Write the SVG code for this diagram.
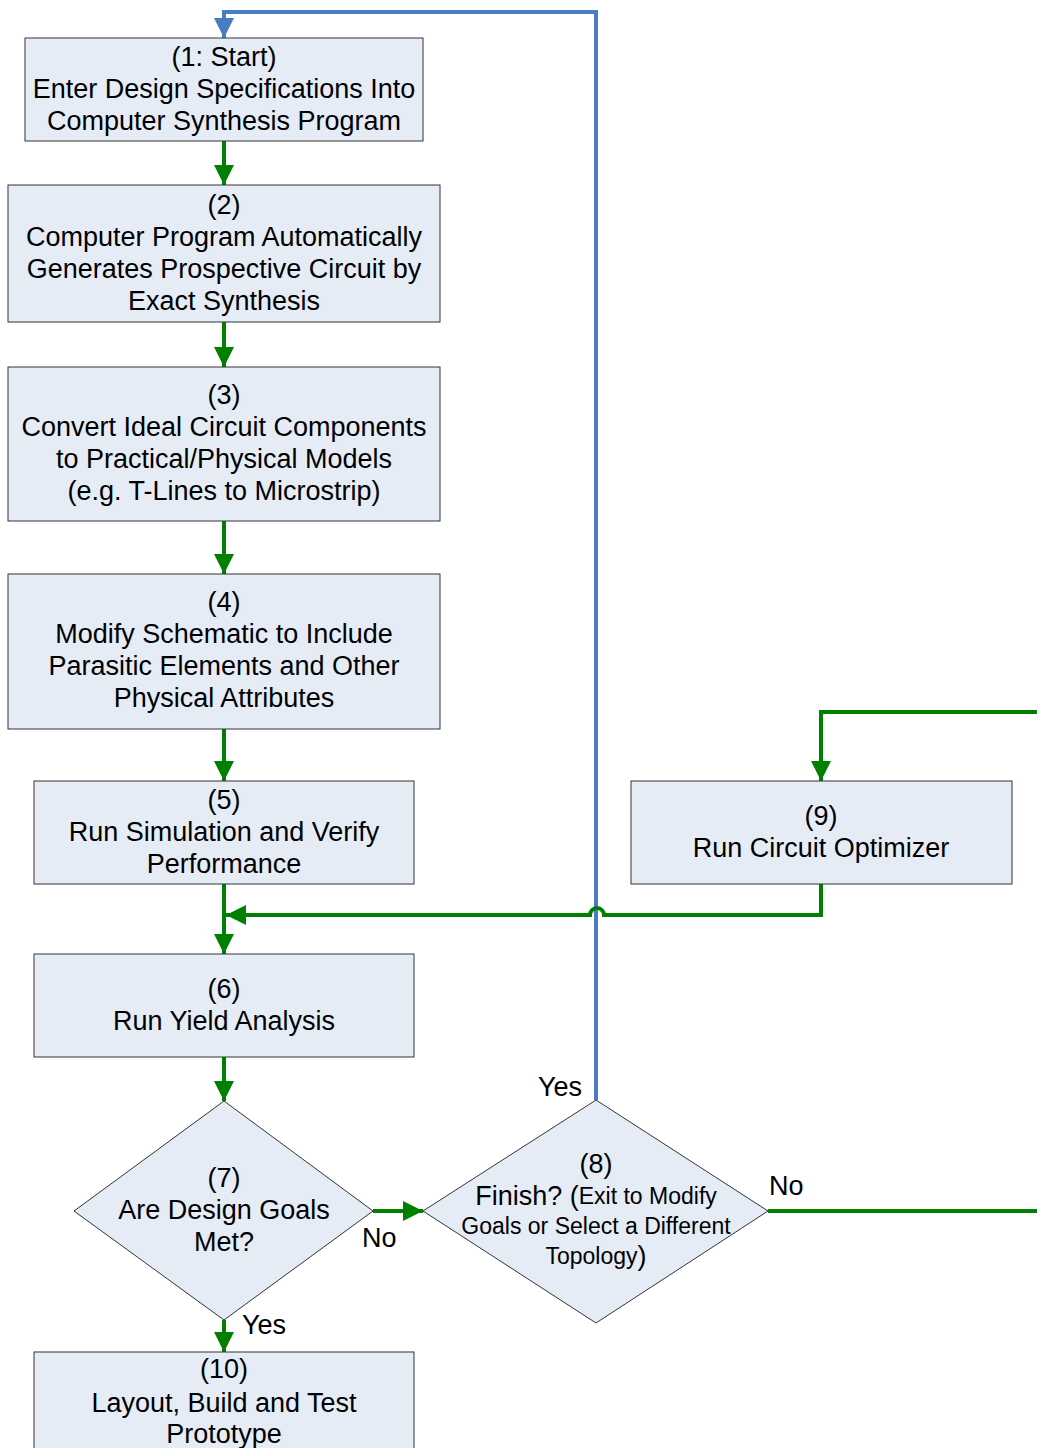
<svg xmlns="http://www.w3.org/2000/svg" width="1037" height="1448" viewBox="0 0 1037 1448">
<style>
.box{fill:#E6ECF6;stroke:#333;stroke-width:1}
.t{font-family:"Liberation Sans",Arial,sans-serif;font-size:27px;fill:#000;text-anchor:middle;dominant-baseline:central}
.s{font-size:23px}
.g{fill:none;stroke:#008000;stroke-width:4}
.b{fill:none;stroke:#4A7BC4;stroke-width:4}
.lbl{font-family:"Liberation Sans",Arial,sans-serif;font-size:27px;fill:#000;dominant-baseline:central}
</style>
<defs>
<marker id="ag" markerUnits="userSpaceOnUse" markerWidth="22" markerHeight="22" refX="20" refY="10" orient="auto"><path d="M0,0 L20,10 L0,20 Z" fill="#008000"/></marker>
<marker id="ab" markerUnits="userSpaceOnUse" markerWidth="22" markerHeight="22" refX="20" refY="10" orient="auto"><path d="M0,0 L20,10 L0,20 Z" fill="#4A7BC4"/></marker>
</defs>
<rect width="1037" height="1448" fill="#fff"/>
<g id="connectors">
<path class="g" d="M224,141 V185" marker-end="url(#ag)"/>
<path class="g" d="M224,322 V367" marker-end="url(#ag)"/>
<path class="g" d="M224,521 V574" marker-end="url(#ag)"/>
<path class="g" d="M224,729 V781" marker-end="url(#ag)"/>
<path class="g" d="M224,884 V954" marker-end="url(#ag)"/>
<path class="b" d="M596,1100 V12 H224 V38" marker-end="url(#ab)"/>
<path class="g" d="M821,884 V915 H604 A7,7 0 0 0 590,915 H226" marker-end="url(#ag)"/>
<path class="g" d="M224,1057 V1101" marker-end="url(#ag)"/>
<path class="g" d="M373,1211 H423" marker-end="url(#ag)"/>
<path class="g" d="M224,1320 V1352" marker-end="url(#ag)"/>
<path class="g" d="M768,1211 H1037"/>
<path class="g" d="M1037,712 H821 V781" marker-end="url(#ag)"/>
<text class="lbl" x="362" y="1238">No</text>
<text class="lbl" x="242" y="1325">Yes</text>
<text class="lbl" x="769" y="1186">No</text>
<text class="lbl" x="538" y="1087">Yes</text>
</g>
<g id="n1"><rect class="box" x="25" y="38" width="398" height="103"/>
<text class="t" x="224" y="57">(1: Start)</text>
<text class="t" x="224" y="89">Enter Design Specifications Into</text>
<text class="t" x="224" y="121">Computer Synthesis Program</text></g>
<g id="n2"><rect class="box" x="8" y="185" width="432" height="137"/>
<text class="t" x="224" y="205">(2)</text>
<text class="t" x="224" y="237">Computer Program Automatically</text>
<text class="t" x="224" y="269">Generates Prospective Circuit by</text>
<text class="t" x="224" y="301">Exact Synthesis</text></g>
<g id="n3"><rect class="box" x="8" y="367" width="432" height="154"/>
<text class="t" x="224" y="395">(3)</text>
<text class="t" x="224" y="427">Convert Ideal Circuit Components</text>
<text class="t" x="224" y="459">to Practical/Physical Models</text>
<text class="t" x="224" y="491">(e.g. T-Lines to Microstrip)</text></g>
<g id="n4"><rect class="box" x="8" y="574" width="432" height="155"/>
<text class="t" x="224" y="602">(4)</text>
<text class="t" x="224" y="634">Modify Schematic to Include</text>
<text class="t" x="224" y="666">Parasitic Elements and Other</text>
<text class="t" x="224" y="698">Physical Attributes</text></g>
<g id="n5"><rect class="box" x="34" y="781" width="380" height="103"/>
<text class="t" x="224" y="800">(5)</text>
<text class="t" x="224" y="832">Run Simulation and Verify</text>
<text class="t" x="224" y="864">Performance</text></g>
<g id="n6"><rect class="box" x="34" y="954" width="380" height="103"/>
<text class="t" x="224" y="989">(6)</text>
<text class="t" x="224" y="1021">Run Yield Analysis</text></g>
<g id="n7"><polygon class="box" points="224,1101 373,1211 224,1320 74,1211"/>
<text class="t" x="224" y="1178">(7)</text>
<text class="t" x="224" y="1210">Are Design Goals</text>
<text class="t" x="224" y="1242">Met?</text></g>
<g id="n8"><polygon class="box" points="596,1100 768,1211 596,1323 423,1211"/>
<text class="t" x="596" y="1164">(8)</text>
<text class="t" x="596" y="1196">Finish? (<tspan class="s">Exit to Modify</tspan></text>
<text class="t s" x="596" y="1226">Goals or Select a Different</text>
<text class="t" x="596" y="1256"><tspan class="s">Topology</tspan>)</text></g>
<g id="n9"><rect class="box" x="631" y="781" width="381" height="103"/>
<text class="t" x="821" y="816">(9)</text>
<text class="t" x="821" y="848">Run Circuit Optimizer</text></g>
<g id="n10"><rect class="box" x="34" y="1352" width="380" height="110"/>
<text class="t" x="224" y="1369">(10)</text>
<text class="t" x="224" y="1403">Layout, Build and Test</text>
<text class="t" x="224" y="1434">Prototype</text></g>
</svg>
